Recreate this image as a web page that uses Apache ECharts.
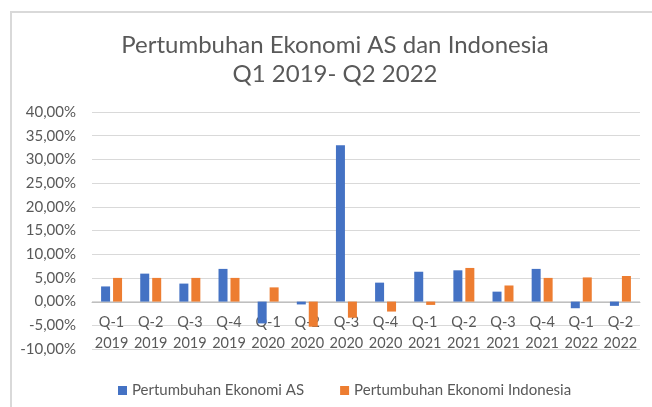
<!DOCTYPE html>
<html><head><meta charset="utf-8">
<script src="https://cdn.jsdelivr.net/npm/echarts@6/dist/echarts.min.js"></script>
<style>html,body{margin:0;padding:0;background:#fff}#c{width:652px;height:407px}</style>
</head><body><div id="c"></div>
<script>
var categories = ['Q-1\n2019','Q-2\n2019','Q-3\n2019','Q-4\n2019','Q-1\n2020','Q-2\n2020','Q-3\n2020','Q-4\n2020','Q-1\n2021','Q-2\n2021','Q-3\n2021','Q-4\n2021','Q-1\n2022','Q-2\n2022'];
var seriesAS = [3.2, 5.9, 3.8, 6.9, -4.6, -0.6, 33.0, 4.0, 6.3, 6.6, 2.1, 6.9, -1.4, -0.9];
var seriesID = [5.0, 5.0, 5.0, 5.0, 3.0, -5.3, -3.4, -2.1, -0.7, 7.1, 3.4, 5.0, 5.1, 5.4];
var nameAS = 'Pertumbuhan Ekonomi AS';
var nameID = 'Pertumbuhan Ekonomi Indonesia';
var titleText = 'Pertumbuhan Ekonomi AS dan Indonesia\nQ1 2019- Q2 2022';

var chart = echarts.init(document.getElementById('c'));
var font = 'Lato, "Open Sans", sans-serif';
chart.setOption({
  animation: false,
  textStyle: {fontFamily: font},
  graphic: [{type:'rect', shape:{x:11, y:12, width:700, height:450}, style:{fill:'none', stroke:'#d9d9d9', lineWidth:2}, z:-1}],
  title: {text: titleText, left: 330, textAlign: 'center', top: 26,
    textStyle: {fontFamily: font, fontSize: 24, fontWeight: 'normal', color: '#595959', lineHeight: 29}},
  legend: {left: 113, top: 378, itemWidth: 9, itemHeight: 9, itemGap: 36, icon: 'rect',
    textStyle: {fontFamily: font, fontSize: 15, color: '#595959'},
    data: [nameAS, nameID]},
  grid: {left: 92, right: 12, top: 112, bottom: 58},
  xAxis: {type: 'category', data: categories, offset: -47,
    axisLine: {onZero: false, lineStyle: {color: '#bfbfbf'}},
    axisTick: {show: false},
    axisLabel: {fontFamily: font, fontSize: 14.5, color: '#595959', lineHeight: 21, margin: 10, interval: 0}},
  yAxis: {type: 'value', min: -10, max: 40, interval: 5,
    axisLine: {show: false}, axisTick: {show: false},
    splitLine: {lineStyle: {color: '#d9d9d9'}},
    axisLabel: {fontFamily: font, fontSize: 15, color: '#595959', margin: 16,
      formatter: function(v){ return v.toFixed(2).replace('.', ',') + '%'; }}},
  series: [
    {name: nameAS, type: 'bar', data: seriesAS, barWidth: 9, barGap: '33%', itemStyle: {color: '#4472C4'}},
    {name: nameID, type: 'bar', data: seriesID, barWidth: 9, itemStyle: {color: '#ED7D31'}}
  ]
});
</script></body></html>
